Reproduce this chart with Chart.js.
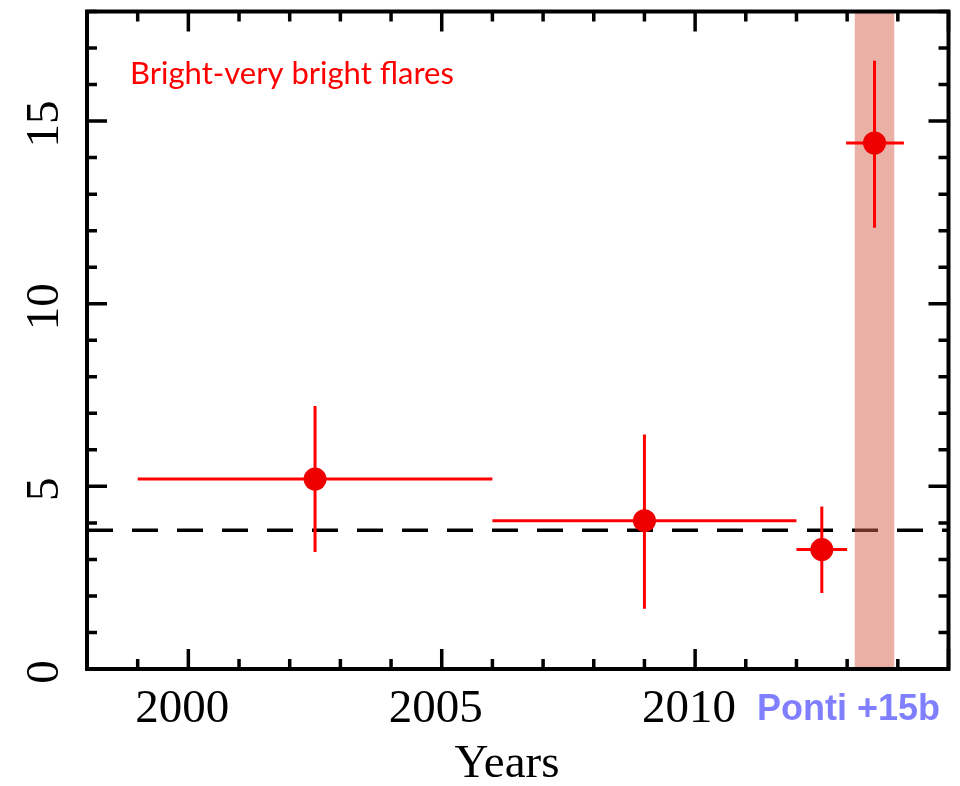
<!DOCTYPE html>
<html>
<head>
<meta charset="utf-8">
<script src="https://cdn.jsdelivr.net/npm/chart.js@4.4.0/dist/chart.umd.min.js"></script>
<style>
  html, body { margin: 0; padding: 0; background: #ffffff; }
  #wrap { width: 960px; height: 786px; }
</style>
</head>
<body>
<div id="wrap"><canvas id="flareChart" width="960" height="786"></canvas></div>
<script>
// bright + very bright flare rate per observing epoch
const epochYears = [2002.5, 2009.0, 2012.5, 2013.54];
const flareRate  = [5.2, 4.06, 3.27, 14.4];
const yearFrom   = [1999.0, 2006.0, 2012.0, 2012.98];
const yearTo     = [2006.0, 2012.0, 2013.0, 2014.12];
const rateLow    = [3.2, 1.65, 2.08, 12.08];
const rateHigh   = [7.2, 6.42, 4.45, 16.65];

// mean rate (dashed) and the highlighted interval
const meanRate = 3.8;
const bandYears = [2013.15, 2013.93];

const xTickLabels = [2000, 2005, 2010];
const yTickLabels = [0, 5, 10, 15];

const SERIF = "47px 'Liberation Serif', 'Times New Roman', serif";

// ======================
// Band, error bars, frame
// ======================

const flarePlugin = {
    id: "flarePlugin",

    // runs right after the dashed line, before the markers
    afterDatasetDraw(chart, args) {
        if (args.index !== 0) return;
        const { ctx, chartArea: a, scales: { x, y } } = chart;

        ctx.save();
        const bx0 = x.getPixelForValue(bandYears[0]);
        const bx1 = x.getPixelForValue(bandYears[1]);
        ctx.fillStyle = "rgba(213, 97, 77, 0.5)";
        ctx.fillRect(bx0, a.top, bx1 - bx0, a.bottom - a.top);

        ctx.strokeStyle = "#ff0000";
        ctx.lineWidth = 3;
        for (let i = 0; i < epochYears.length; i++) {
            const px = x.getPixelForValue(epochYears[i]);
            const py = y.getPixelForValue(flareRate[i]);
            ctx.beginPath();
            ctx.moveTo(x.getPixelForValue(yearFrom[i]), py);
            ctx.lineTo(x.getPixelForValue(yearTo[i]), py);
            ctx.moveTo(px, y.getPixelForValue(rateLow[i]));
            ctx.lineTo(px, y.getPixelForValue(rateHigh[i]));
            ctx.stroke();
        }
        ctx.restore();
    },

    afterDraw(chart) {
        const { ctx, chartArea: a, scales: { x, y } } = chart;
        ctx.save();

        // frame
        ctx.strokeStyle = "#000000";
        ctx.lineWidth = 4;
        ctx.strokeRect(a.left, a.top, a.right - a.left, a.bottom - a.top);

        // inward ticks on all four sides
        ctx.lineWidth = 3.5;
        ctx.beginPath();
        x.ticks.forEach(t => {
            const len = t.value % 5 === 0 ? 20 : 10;
            const px = x.getPixelForValue(t.value);
            ctx.moveTo(px, a.bottom); ctx.lineTo(px, a.bottom - len);
            ctx.moveTo(px, a.top); ctx.lineTo(px, a.top + len);
        });
        y.ticks.forEach(t => {
            const len = t.value % 5 === 0 ? 20 : 10;
            const py = y.getPixelForValue(t.value);
            ctx.moveTo(a.left, py); ctx.lineTo(a.left + len, py);
            ctx.moveTo(a.right, py); ctx.lineTo(a.right - len, py);
        });
        ctx.stroke();

        // tick labels
        ctx.fillStyle = "#000000";
        ctx.font = SERIF;
        ctx.textAlign = "center";
        ctx.textBaseline = "alphabetic";
        xTickLabels.forEach(v => {
            ctx.fillText(String(v), x.getPixelForValue(v) - 6, 722);
        });
        yTickLabels.forEach(v => {
            ctx.save();
            ctx.translate(58, y.getPixelForValue(v) + 3);
            ctx.rotate(-Math.PI / 2);
            ctx.fillText(String(v), 0, 0);
            ctx.restore();
        });

        // axis title
        ctx.fillText("Years", 507, 777);

        // labels
        ctx.textAlign = "left";
        ctx.fillStyle = "#ff0000";
        ctx.font = "31px Lato, 'Open Sans', sans-serif";
        ctx.fillText("Bright-very bright flares", 130, 84);

        ctx.fillStyle = "#7f7fff";
        ctx.font = "bold 36px 'Liberation Sans', Arial, sans-serif";
        ctx.fillText("Ponti +15b", 757, 720);

        ctx.restore();
    }
};

new Chart(document.getElementById("flareChart"), {

    type: "scatter",

    data: {
        datasets: [
            {
                type: "line",
                label: "mean",
                data: [{ x: 1998, y: meanRate }, { x: 2015, y: meanRate }],
                borderColor: "#000000",
                borderWidth: 3.5,
                borderDash: [26, 19],
                pointRadius: 0,
                fill: false,
                order: 2
            },
            {
                label: "flares",
                data: epochYears.map((yr, i) => ({ x: yr, y: flareRate[i] })),
                backgroundColor: "#ee0000",
                borderWidth: 0,
                pointRadius: 11.5,
                order: 1
            }
        ]
    },

    options: {
        responsive: false,
        animation: false,
        layout: {
            padding: { top: 8, right: 10, left: 0, bottom: 0 }
        },
        plugins: {
            legend: { display: false },
            tooltip: { enabled: false }
        },
        scales: {
            x: {
                type: "linear",
                min: 1998,
                max: 2015,
                ticks: { stepSize: 1, display: false },
                grid: { display: false },
                border: { display: false },
                afterFit: s => { s.height = 117; }
            },
            y: {
                type: "linear",
                min: 0,
                max: 18,
                ticks: { stepSize: 1, display: false },
                grid: { display: false },
                border: { display: false },
                afterFit: s => { s.width = 87; }
            }
        }
    },

    plugins: [flarePlugin]
});
</script>
</body>
</html>
